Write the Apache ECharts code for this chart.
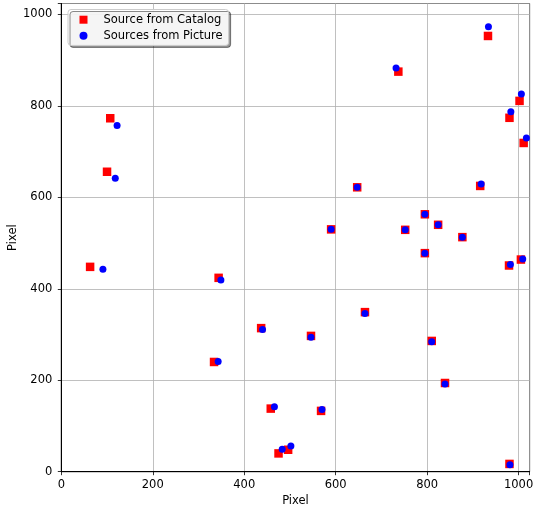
<!DOCTYPE html>
<html>
<head>
<meta charset="utf-8">
<script src="https://cdn.jsdelivr.net/npm/echarts@6/dist/echarts.min.js"></script>
<style>
html,body{margin:0;padding:0;background:#fff;}
#c{width:533px;height:510px;}
</style>
</head>
<body>
<div id="c"></div>
<script>
const xTicks = [0, 200, 400, 600, 800, 1000];
const yTicks = [0, 200, 400, 600, 800, 1000];
const seriesNames = ['Source from Catalog', 'Sources from Picture'];
const catalogX = [107, 100, 63, 344, 334, 437, 664, 546, 810, 839, 979, 1005, 647, 916, 1011, 795, 590, 752, 824, 877, 795, 933, 737, 1002, 980, 458, 568, 475, 496, 980];
const catalogY = [773, 656, 448, 424, 240, 314, 349, 297, 286, 194, 451, 464, 622, 625, 719, 563, 530, 529, 540, 513, 478, 953, 875, 811, 774, 138, 133, 40, 48, 17];
const pictureX = [122, 118, 91, 349, 343, 440, 664, 546, 810, 839, 982, 1009, 647, 918, 1017, 795, 590, 752, 824, 877, 795, 934, 732, 1006, 983, 466, 570, 483, 502, 981];
const pictureY = [757, 642, 443, 419, 241, 311, 346, 294, 284, 192, 453, 465, 622, 629, 730, 563, 530, 529, 540, 513, 478, 973, 883, 826, 787, 142, 136, 49, 56, 15];

const catalog = catalogX.map((x, i) => [x, catalogY[i]]);
const picture = pictureX.map((x, i) => [x, pictureY[i]]);

const font = 'DejaVu Sans';
const fs = 11.5;

function axis(name, ticks, isY) {
  return {
    type: 'value',
    min: 0, max: 1024, interval: 200,
    name: name,
    nameLocation: 'middle',
    nameGap: isY ? 42 : 23,
    nameMoveOverlap: false,
    nameTextStyle: { fontFamily: font, fontSize: fs, color: '#000' },
    axisLine: { show: true, onZero: false, lineStyle: { color: '#000', width: 1 } },
    axisTick: { show: true, length: 3.5, lineStyle: { color: '#000', width: 0.8 } },
    axisLabel: {
      fontFamily: font, fontSize: fs, color: '#000', margin: isY ? 9 : 7,
      formatter: v => (ticks.indexOf(v) >= 0 ? String(v) : '')
    },
    splitLine: { show: true, lineStyle: { color: '#b0b0b0', width: 0.8 } }
  };
}

const chart = echarts.init(document.getElementById('c'), null, { renderer: 'canvas' });
chart.setOption({
  animation: false,
  backgroundColor: '#fff',
  grid: {
    left: 61.3, top: 3.5, width: 468.3, height: 468.2,
    outerBoundsMode: 'none', containLabel: false,
    show: true, borderColor: '#000', borderWidth: 1, backgroundColor: 'transparent'
  },
  xAxis: axis('Pixel', xTicks, false),
  yAxis: axis('Pixel', yTicks, true),
  legend: {
    orient: 'vertical',
    left: 68, top: 9.5,
    padding: [3.7, 6, 3.2, 11.5],
    itemGap: 3,
    itemWidth: 8, itemHeight: 8,
    backgroundColor: 'rgba(255,255,255,0.9)',
    borderColor: '#cccccc', borderWidth: 1, borderRadius: 3,
    shadowColor: 'rgba(0,0,0,0.45)', shadowBlur: 0, shadowOffsetX: 2, shadowOffsetY: 2,
    textStyle: { fontFamily: font, fontSize: fs, color: '#000', lineHeight: 13, padding: [0, 0, 0, 11] },
    data: [
      { name: seriesNames[0], icon: 'rect' },
      { name: seriesNames[1], icon: 'circle' }
    ]
  },
  series: [
    {
      name: seriesNames[0], type: 'scatter', symbol: 'rect', symbolSize: 8.5,
      itemStyle: { color: '#ff0000', opacity: 1 }, data: catalog, z: 2
    },
    {
      name: seriesNames[1], type: 'scatter', symbol: 'circle', symbolSize: 7,
      itemStyle: { color: '#0000ff', opacity: 1 }, data: picture, z: 3
    }
  ]
});
</script>
</body>
</html>
